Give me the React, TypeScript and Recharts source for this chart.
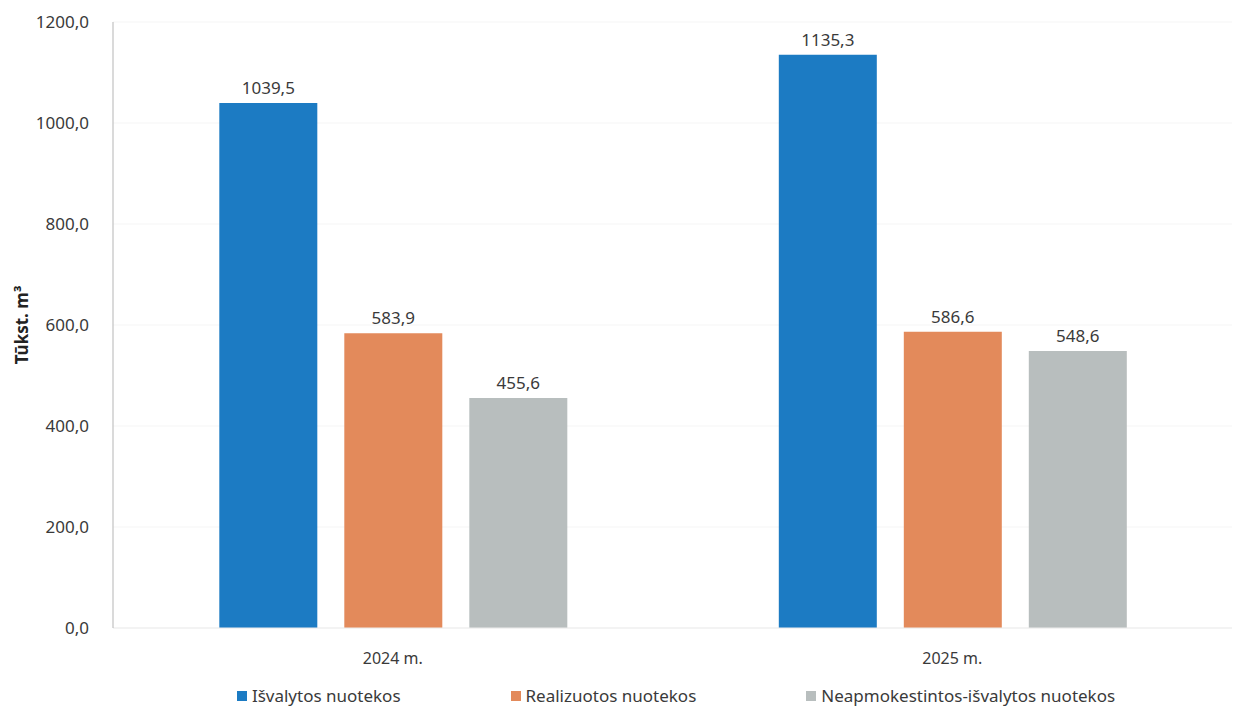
import React from 'react';
import {
    BarChart,
    Bar,
    XAxis,
    YAxis,
    CartesianGrid,
    Legend,
    LabelList,
} from 'recharts';

const years: string[] = ['2024 m.', '2025 m.'];
const isvalytos: number[] = [1039.5, 1135.3];
const realizuotos: number[] = [583.9, 586.6];
const neapmokestintos: number[] = [455.6, 548.6];
const yTicks: number[] = [0, 200, 400, 600, 800, 1000, 1200];

const seriesNames = {
    isvalytos: 'Išvalytos nuotekos',
    realizuotos: 'Realizuotos nuotekos',
    neapmokestintos: 'Neapmokestintos-išvalytos nuotekos',
};

const colors = {
    isvalytos: '#1c7bc3',
    realizuotos: '#e38a5b',
    neapmokestintos: '#b8bebe',
};

const data = years.map((year, i) => ({
    year,
    isvalytos: isvalytos[i],
    realizuotos: realizuotos[i],
    neapmokestintos: neapmokestintos[i],
}));

const fmt = (v: number) => Number(v).toFixed(1).replace('.', ',');

const font = "'Noto Sans', 'Open Sans', sans-serif";
const textColor = '#3a3a3a';

const LegendContent = () => (
    <div style={{ display: 'flex', justifyContent: 'center', gap: 110, fontFamily: font, fontSize: 17, color: textColor, paddingLeft: 112, lineHeight: '24px' }}>
        {(Object.keys(seriesNames) as (keyof typeof seriesNames)[]).map((key) => (
            <div key={key} style={{ display: 'flex', alignItems: 'center' }}>
                <span style={{ width: 10, height: 10, background: colors[key], display: 'inline-block', marginRight: 5 }} />
                <span>{seriesNames[key]}</span>
            </div>
        ))}
    </div>
);

const App = () => (
    <BarChart
        width={1230}
        height={700}
        data={data}
        margin={{ top: 14, right: 6, left: 0, bottom: 0 }}
        barCategoryGap="19%"
        barGap={27}
        style={{ fontFamily: font }}
    >
        <CartesianGrid vertical={false} stroke="#f5f5f5" />
        <XAxis
            dataKey="year"
            height={56}
            tickLine={false}
            axisLine={{ stroke: '#ececec' }}
            tick={{ fill: textColor, fontSize: 16 }}
            tickMargin={19}
        />
        <XAxis xAxisId="top" orientation="top" dataKey="year" height={0} tick={false} tickLine={false} axisLine={{ stroke: '#b5b5b5' }} />
        <YAxis
            width={105}
            domain={[0, 1200]}
            ticks={yTicks}
            tickFormatter={fmt}
            tickLine={false}
            axisLine={{ stroke: '#b5b5b5' }}
            tick={{ fill: textColor, fontSize: 17 }}
            tickMargin={18}
            label={{ value: 'Tūkst. m³', angle: -90, position: 'insideLeft', offset: 14, style: { fill: '#222', fontSize: 17, fontWeight: 'bold', textAnchor: 'middle' } }}
        />
        <YAxis yAxisId="right" orientation="right" width={0} domain={[0, 1200]} tick={false} tickLine={false} axisLine={{ stroke: '#b5b5b5' }} />
        <Legend verticalAlign="bottom" content={<LegendContent />} />
        <Bar dataKey="isvalytos" name={seriesNames.isvalytos} fill={colors.isvalytos} isAnimationActive={false}>
            <LabelList dataKey="isvalytos" position="top" offset={9} formatter={fmt} style={{ fill: textColor, fontSize: 17 }} />
        </Bar>
        <Bar dataKey="realizuotos" name={seriesNames.realizuotos} fill={colors.realizuotos} isAnimationActive={false}>
            <LabelList dataKey="realizuotos" position="top" offset={9} formatter={fmt} style={{ fill: textColor, fontSize: 17 }} />
        </Bar>
        <Bar dataKey="neapmokestintos" name={seriesNames.neapmokestintos} fill={colors.neapmokestintos} isAnimationActive={false}>
            <LabelList dataKey="neapmokestintos" position="top" offset={9} formatter={fmt} style={{ fill: textColor, fontSize: 17 }} />
        </Bar>
    </BarChart>
);

export default App;
